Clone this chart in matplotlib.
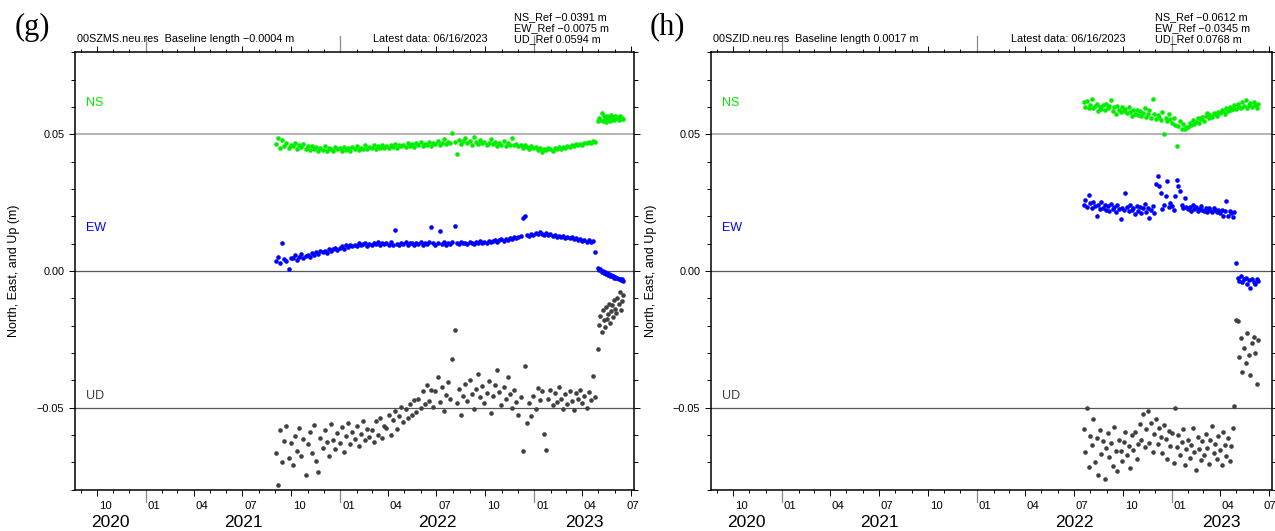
"""GNSS baseline time series, panels (g) 00SZMS and (h) 00SZID."""

import matplotlib

matplotlib.use("Agg")
import matplotlib.pyplot as plt
import matplotlib.dates as mdates
import matplotlib.ticker as mticker
import numpy as np
import pandas as pd

plt.rcParams["font.family"] = ["Liberation Sans", "DejaVu Sans"]

XLIM = ("2020-08-20", "2023-07-07")
YEARS = [2020, 2021, 2022, 2023]
QUARTER_MONTHS = [1, 4, 7, 10]

# ---- panel (g): 00SZMS, values in mm ----
G_PRE_START, G_PRE_STEP = "2021-09-02", "4D"
G_POST_START, G_POST_STEP = "2023-05-01", "2D"
G_NS_PRE = [
    46.5, 48.8, 45.2, 47.9, 45.8, 46.9, 44.9, 46.2,
    45.6, 47.0, 44.8, 46.1, 45.3, 46.6, 44.7,
    45.8, 44.3, 45.9, 44.6, 45.5, 43.8, 45.1,
    44.4, 45.6, 44.0, 45.2, 44.7, 43.9, 45.4, 44.5,
    44.9, 44.1, 45.5, 44.3, 45.0, 43.8, 45.3,
    44.6, 45.7, 44.2, 45.1, 44.8, 46.0, 44.5, 45.4,
    45.0, 46.1, 44.7, 45.6, 45.2, 46.3, 45.0,
    45.8, 44.9, 46.2, 45.4, 46.5, 45.1, 46.0, 45.6,
    46.3, 45.5, 46.8, 45.9, 46.4, 45.3, 46.7,
    46.0, 47.2, 45.8, 46.6, 46.1, 47.4, 45.9, 46.8,
    46.4, 47.6, 46.2, 47.0, 48.3, 46.5, 47.3, 46.8,
    50.4, 47.1, 42.9, 47.8, 46.6, 47.5, 48.6,
    46.9, 47.7, 46.3, 48.9, 47.2, 46.5, 47.9, 46.8,
    47.4, 46.2, 47.0, 48.4, 46.6, 47.3, 45.9,
    46.8, 46.1, 47.5, 45.8, 46.9, 46.3, 48.7, 46.0,
    46.5, 45.6, 46.2, 45.1, 46.0, 45.4, 44.6, 45.7,
    44.9, 45.3, 44.2, 45.0, 43.6, 44.7, 44.3,
    45.2, 44.5, 44.0, 45.1, 44.6, 45.5, 44.8, 45.3,
    45.0, 45.9, 45.4, 46.2, 45.7, 46.5, 46.0,
    46.6, 46.2, 47.0, 46.7, 47.3, 46.9, 47.6, 47.4,
]
G_NS_POST = [
    54.8, 56.2, 55.3, 57.9, 55.0, 56.6, 55.8, 54.6, 56.9, 55.5, 56.1, 54.9,
    57.1, 55.7, 56.4, 55.2, 56.8, 55.9, 56.3, 55.4, 56.7, 55.8, 56.0, 55.6,
]
G_EW_PRE = [
    3.8, 5.1, 2.9, 10.1, 4.4, 3.5, 0.6, 4.9,
    4.7, 5.8, 3.9, 5.3, 6.1, 4.6, 5.5,
    6.0, 5.2, 6.6, 5.7, 6.9, 6.2, 7.3,
    6.8, 7.5, 6.5, 8.0, 7.2, 7.9, 8.3, 7.6,
    8.6, 9.1, 8.2, 9.4, 8.8, 9.6, 9.0,
    9.7, 9.2, 10.1, 9.5, 9.9, 10.4, 9.3, 10.0,
    9.6, 10.3, 9.8, 10.6, 9.4, 10.1, 9.9,
    10.2, 9.5, 10.5, 9.7, 15.0, 10.0, 9.6, 10.3,
    9.8, 10.6, 9.4, 10.1, 10.4, 9.7, 10.2,
    9.9, 10.5, 9.5, 10.3, 9.8, 10.7, 16.0, 10.1,
    9.6, 10.4, 14.5, 10.0, 10.6, 9.7, 10.3, 9.9,
    10.5, 16.5, 10.2, 9.8, 10.7, 10.1, 10.4,
    10.0, 10.8, 10.3, 9.9, 10.6, 10.2, 11.0, 10.4,
    10.7, 10.3, 11.1, 10.6, 10.9, 11.3, 10.8,
    11.2, 11.6, 11.0, 11.8, 11.4, 12.1, 11.7, 12.4,
    12.0, 12.6, 12.9, 19.3, 20.1, 13.1, 12.8, 13.4,
    13.2, 13.9, 13.5, 14.4, 13.7, 13.3, 13.8,
    13.0, 13.5, 12.8, 13.2, 12.6, 12.9, 12.4, 12.7,
    12.2, 12.5, 11.9, 12.3, 11.6, 11.9, 11.4,
    11.7, 11.1, 11.4, 10.8, 11.2, 10.5, 10.9, 6.8,
]
G_EW_POST = [
    1.2, 0.4, 0.8, -0.2, 0.1, -0.6, -0.3, -1.0, -0.7, -1.3, -1.1, -1.7,
    -1.4, -2.0, -1.8, -2.4, -2.1, -2.7, -2.5, -3.0, -2.8, -3.4, -3.1, -3.6,
]
G_UD_PRE = [
    -66.5, -78.5, -58.2, -70.1, -62.3, -56.9, -68.4, -63.0,
    -71.2, -60.5, -65.8, -57.4, -67.9, -61.6, -74.8,
    -63.4, -59.0, -66.7, -56.3, -69.5, -73.6, -61.2,
    -64.9, -58.1, -62.7, -67.8, -56.0, -61.9, -65.3, -59.4,
    -62.8, -57.2, -66.1, -60.3, -55.8, -63.5, -58.9,
    -61.4, -56.6, -64.2, -59.7, -54.9, -62.0, -57.8, -60.9,
    -58.3, -62.6, -55.1, -59.9, -53.8, -61.2, -56.7,
    -57.5, -52.9, -60.1, -54.6, -51.3, -58.0, -53.2, -49.8,
    -55.4, -50.7, -53.9, -48.6, -52.8, -47.3, -51.5,
    -46.9, -50.2, -44.1, -48.8, -41.7, -47.5, -43.6, -49.7,
    -44.0, -38.9, -47.8, -42.6, -51.2, -45.3, -40.8, -46.7,
    -32.2, -21.7, -48.5, -43.1, -52.9, -45.8, -41.4,
    -47.6, -39.8, -44.9, -50.6, -43.2, -37.6, -46.1, -42.0,
    -48.3, -44.5, -40.2, -52.0, -45.7, -41.8, -36.4,
    -44.3, -49.1, -42.5, -46.8, -38.9, -45.2, -50.3, -43.7,
    -47.9, -52.6, -46.2, -66.0, -34.7, -55.8, -48.4, -53.1,
    -45.9, -50.7, -42.8, -47.4, -44.1, -59.8, -65.7,
    -46.8, -43.5, -49.2, -44.6, -48.1, -42.3, -47.0, -50.4,
    -45.1, -48.7, -43.9, -47.6, -51.0, -44.8, -46.9,
    -43.4, -48.2, -45.7, -50.1, -44.2, -47.3, -38.6, -46.0,
]
G_UD_POST = [
    -28.6, -19.8, -16.5, -22.3, -14.1, -18.0, -20.5, -13.2, -17.4, -15.6, -11.9, -19.1,
    -14.8, -12.5, -16.9, -10.7, -13.8, -15.2, -9.8, -12.1, -7.6, -14.3, -11.0, -8.9,
]

# ---- panel (h): 00SZID, values in mm ----
H_START, H_STEP = "2022-07-20", "3D"
H_NS = [
    61.8, 60.2, 62.4, 59.6, 60.9,
    63.0, 59.8, 60.5, 61.3, 58.4, 60.1, 59.2, 60.7, 58.9, 61.1,
    59.5, 60.3, 62.5, 58.7, 59.9, 57.6, 60.4, 59.0, 58.3, 60.0,
    58.6, 59.4, 57.9, 60.2, 58.1, 56.9, 59.0, 57.5, 58.8, 57.2,
    58.4, 56.8, 57.9, 59.5, 56.4, 57.6, 58.9, 56.1, 63.1, 57.3,
    55.8, 57.0, 56.3, 55.2, 58.1, 50.0, 56.0, 54.9, 57.4, 55.5,
    54.2, 55.9, 53.6, 45.7, 53.0, 54.8, 52.1, 53.7, 51.9, 52.6,
    52.9, 54.1, 53.4, 55.2, 53.9, 54.6, 56.0, 54.3, 55.5, 56.4,
    55.1, 56.8, 57.7, 55.9, 57.2, 56.5, 58.0, 57.3, 56.6, 58.3,
    57.8, 59.1, 58.4, 57.5, 59.6, 58.7, 60.2, 58.9, 59.4, 60.6,
    59.3, 61.0, 60.1, 59.5, 61.7, 60.4, 62.5, 59.8, 60.9, 61.4, 60.0, 62.0, 60.6, 59.7, 61.2,
]
H_EW = [
    24.1, 26.0, 23.3, 28.0, 24.8,
    22.9, 25.1, 23.7, 20.1, 24.3, 22.6, 25.4, 23.0, 24.0, 22.2,
    23.8, 21.9, 24.6, 22.8, 23.4, 21.5, 24.2, 22.7, 18.9, 23.1,
    22.4, 28.6, 23.6, 21.8, 24.0, 22.5, 23.2, 20.9, 23.9, 22.1,
    23.5, 21.4, 22.9, 24.4, 21.7, 23.0, 19.5, 22.3, 23.7, 21.2,
    32.0, 34.7, 31.0, 28.6, 22.6, 24.1, 27.6, 32.8, 23.4, 25.0,
    23.8, 22.4, 27.4, 33.5, 31.0, 29.2, 24.3, 22.9, 26.8, 23.6,
    22.7, 23.5, 22.1, 24.0, 22.8, 23.3, 21.9, 22.6, 23.8, 22.4,
    22.0, 23.1, 21.7, 22.9, 22.3, 21.5, 23.0, 22.2, 21.6, 22.5,
    21.3, 22.4, 20.1, 21.8, 25.5, 20.3, 22.0, 21.4, 19.9, 21.6,
    3.0, -2.4, -3.6, -1.9, -4.1, -3.0, -2.6, -4.6, -3.3, -6.4, -2.8, -3.9, -4.8, -3.1, -3.7,
]
H_UD = [
    -57.8, -66.4, -50.1, -71.9, -60.5,
    -63.7, -54.2, -69.8, -61.0, -74.6, -58.3, -66.9, -62.1, -76.3, -64.8,
    -59.4, -68.2, -63.0, -71.5, -57.1, -66.0, -73.4, -61.7, -65.9, -69.6,
    -62.5, -58.8, -67.3, -64.1, -72.0, -60.2, -65.4, -59.0, -68.7, -63.3,
    -56.2, -61.8, -52.4, -64.6, -58.0, -51.3, -62.9, -55.6, -66.2, -59.7,
    -54.1, -63.5, -57.3, -60.8, -66.7, -56.5, -61.4, -69.0, -58.6, -63.9,
    -59.2, -70.3, -50.2, -64.4, -60.1, -67.5, -62.6, -58.0, -71.2, -65.3,
    -61.9, -68.6, -63.8, -57.4, -66.1, -72.7, -60.6, -65.0, -69.3, -62.2,
    -67.4, -59.6, -64.9, -70.8, -62.0, -56.7, -66.5, -63.2, -68.9, -60.4,
    -65.7, -71.0, -58.9, -63.6, -67.9, -61.3, -69.7, -64.0, -57.5, -49.4,
    -17.8, -18.2, -31.5, -24.6, -36.9, -28.3, -33.8, -22.7, -30.6, -38.2, -26.4, -24.1, -29.9, -41.2, -25.3,
]

COMPONENTS = ["NS", "EW", "UD"]
COLORS = {"NS": "#00ee00", "EW": "#0000ff", "UD": "#404040"}
LABEL_Y = {"NS": 0.0614, "EW": 0.0159, "UD": -0.0456}

G_HEADER = ["00SZMS.neu.res  Baseline length \u22120.0004 m", "Latest data: 06/16/2023"]
G_REFS = ["NS_Ref \u22120.0391 m", "EW_Ref \u22120.0075 m", "UD_Ref 0.0594 m"]
H_HEADER = ["00SZID.neu.res  Baseline length 0.0017 m", "Latest data: 06/16/2023"]
H_REFS = ["NS_Ref \u22120.0612 m", "EW_Ref \u22120.0345 m", "UD_Ref 0.0768 m"]

W, H = 1275, 531


def fx(x):
    return x / W


def fy(y):
    return 1 - y / H


def fmt_y(v, _):
    s = f"{round(v, 3):.2f}"
    if s == "-0.00":
        s = "0.00"
    return s.replace("-", "\u2212")


def setup_axes(ax, height_px):
    x0, x1 = pd.Timestamp(XLIM[0]), pd.Timestamp(XLIM[1])
    ax.set_xlim(x0, x1)
    ax.set_ylim(-0.08, 0.08)
    for sp in ax.spines.values():
        sp.set_linewidth(1.1)

    ax.xaxis.set_major_locator(mdates.MonthLocator(bymonth=QUARTER_MONTHS))
    ax.xaxis.set_minor_locator(mdates.MonthLocator())
    ax.xaxis.set_major_formatter(mticker.NullFormatter())
    ax.tick_params(axis="x", which="major", length=4.5, width=0.7, top=True, direction="out")
    ax.tick_params(axis="x", which="minor", length=2.3, width=0.7, top=True, direction="out")

    ax.yaxis.set_major_locator(mticker.MultipleLocator(0.05))
    ax.yaxis.set_minor_locator(mticker.MultipleLocator(0.01))
    ax.yaxis.set_major_formatter(mticker.FuncFormatter(fmt_y))
    ax.tick_params(axis="y", which="major", length=4.3, width=0.7, right=True,
                   labelsize=7.8, pad=3)
    ax.tick_params(axis="y", which="minor", length=3.0, width=0.7, right=True)

    # reference lines
    ax.axhline(0.05, color="#b4b4b4", lw=1.4, zorder=1)
    ax.axhline(0.0, color="#555555", lw=0.9, zorder=1)
    ax.axhline(-0.05, color="#555555", lw=0.9, zorder=1)

    trans = ax.get_xaxis_transform()
    # long ticks at year boundaries
    for yr in YEARS[1:]:
        d = mdates.date2num(pd.Timestamp(f"{yr}-01-01"))
        ax.plot([d, d], [1, 1 + 16 / height_px], transform=trans, clip_on=False,
                color="#8a8a8a", lw=0.9)
        ax.plot([d, d], [0, -12 / height_px], transform=trans, clip_on=False,
                color="#8a8a8a", lw=0.9)

    # month labels, centred in the visible part of each month
    for m in pd.date_range(x0.replace(day=1), x1, freq="MS"):
        if m.month not in QUARTER_MONTHS:
            continue
        a = max(m, x0)
        b = min(m + pd.offsets.MonthBegin(1), x1)
        c = mdates.date2num(a + (b - a) / 2)
        ax.text(c, -16.5 / height_px, f"{m.month:02d}", transform=trans,
                ha="center", va="center", fontsize=8.2)

    # year labels, centred in the visible part of each year
    for yr in YEARS:
        a = max(pd.Timestamp(f"{yr}-01-01"), x0)
        b = min(pd.Timestamp(f"{yr + 1}-01-01"), x1)
        c = mdates.date2num(a + (b - a) / 2)
        ax.text(c, -33 / height_px, str(yr), transform=trans,
                ha="center", va="center", fontsize=12.5)


fig = plt.figure(figsize=(W / 100, H / 100), dpi=100)

g_pre = pd.date_range(G_PRE_START, periods=len(G_NS_PRE), freq=G_PRE_STEP)
g_post = pd.date_range(G_POST_START, periods=len(G_NS_POST), freq=G_POST_STEP)
h_dates = pd.date_range(H_START, periods=len(H_NS), freq=H_STEP)

panels = [
    dict(letter="(g)", box=(74.5, 52.5, 634.0, 489.5), letter_x=15, name_x=77,
         latest_x=373, ref_x=514, header=G_HEADER, refs=G_REFS,
         dates=g_pre.append(g_post),
         series={"NS": G_NS_PRE + G_NS_POST, "EW": G_EW_PRE + G_EW_POST,
                 "UD": G_UD_PRE + G_UD_POST}),
    dict(letter="(h)", box=(710.5, 52.5, 1271.8, 489.5), letter_x=650, name_x=713,
         latest_x=1011, ref_x=1155, header=H_HEADER, refs=H_REFS,
         dates=h_dates, series={"NS": H_NS, "EW": H_EW, "UD": H_UD}),
]

for p in panels:
    left, top, right, bottom = p["box"]
    ax = fig.add_axes([fx(left), fy(bottom), (right - left) / W, (bottom - top) / H])
    setup_axes(ax, bottom - top)

    for comp in COMPONENTS:
        vals = np.array(p["series"][comp]) / 1000.0
        ax.plot(p["dates"], vals, "o", ms=3.3, mew=0, color=COLORS[comp], zorder=3)
        ax.text(0.0205, LABEL_Y[comp], comp, transform=ax.get_yaxis_transform(),
                color=COLORS[comp], fontsize=9, ha="left", va="center")

    fig.text(fx(left - 60), fy((top + bottom) / 2), "North, East, and Up (m)",
             rotation=90, ha="center", va="center", fontsize=9)

    fig.text(fx(p["letter_x"]), fy(27), p["letter"], family="Liberation Serif",
             fontsize=22, ha="left", va="center")
    fig.text(fx(p["name_x"]), fy(39.5), p["header"][0], fontsize=7.8, ha="left", va="center")
    fig.text(fx(p["latest_x"]), fy(39.5), p["header"][1], fontsize=7.8, ha="left", va="center")
    for yy, txt in zip([17.0, 28.3, 39.5], p["refs"]):
        fig.text(fx(p["ref_x"]), fy(yy), txt, fontsize=7.8, ha="left", va="center")

fig.savefig("out.png", dpi=100)
